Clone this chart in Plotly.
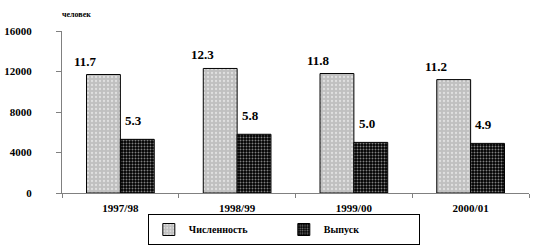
import plotly.graph_objects as go

categories = ["1997/98", "1998/99", "1999/00", "2000/01"]
students = [11700, 12300, 11800, 11200]   # Численность, человек
graduates = [5300, 5800, 5000, 4900]      # Выпуск, человек
y_ticks = [0, 4000, 8000, 12000, 16000]
series_names = ["Численность", "Выпуск"]
y_title = "человек"

FONT = "Times New Roman, Liberation Serif, serif"

fig = go.Figure()
fig.add_trace(go.Bar(
    x=categories, y=students, name=f"<b>{series_names[0]}</b>",
    marker=dict(color="#c0c0c0", line=dict(color="black", width=1),
                pattern=dict(shape=".", fgcolor="white", bgcolor="#c0c0c0",
                             size=4, solidity=0.25)),
))
fig.add_trace(go.Bar(
    x=categories, y=graduates, name=f"<b>{series_names[1]}</b>",
    marker=dict(color="black", line=dict(color="black", width=1),
                pattern=dict(shape=".", fgcolor="white", bgcolor="black",
                             size=3, solidity=0.35)),
))

anns = []
for c, v in zip(categories, students):
    anns.append(dict(x=c, y=v, xref="x", yref="y", text=f"<b>{v/1000:.1f}</b>",
                     showarrow=False, xshift=-35, yshift=4, yanchor="bottom",
                     font=dict(family=FONT, size=13, color="black")))
for c, v in zip(categories, graduates):
    anns.append(dict(x=c, y=v, xref="x", yref="y", text=f"<b>{v/1000:.1f}</b>",
                     showarrow=False, xshift=13, yshift=9, yanchor="bottom",
                     font=dict(family=FONT, size=13, color="black")))
anns.append(dict(x=-0.005, y=1.10, xref="paper", yref="paper", text=f"<b>{y_title}</b>",
                 showarrow=False, xanchor="left", yanchor="middle",
                 font=dict(family=FONT, size=8, color="black")))

fig.update_layout(
    width=540, height=245,
    margin=dict(l=62, r=11, t=31, b=52, pad=0, autoexpand=False),
    paper_bgcolor="white", plot_bgcolor="white",
    barmode="group", bargap=0.42, bargroupgap=0,
    font=dict(family=FONT, size=11, color="black"),
    annotations=anns,
    showlegend=True,
    legend=dict(orientation="h", x=0.475, xanchor="center",
                yref="container", y=0.0, yanchor="bottom",
                bordercolor="black", borderwidth=1, bgcolor="white",
                font=dict(family=FONT, size=10, color="black"),
                itemwidth=30, entrywidth=90, traceorder="normal"),
    xaxis=dict(type="category", showline=True, linecolor="#808080", linewidth=1,
               ticks="outside", ticklen=4, tickcolor="#808080", tickson="boundaries",
               ticklabelstandoff=5,
               tickvals=categories, ticktext=[f"<b>{c}</b>" for c in categories],
               tickfont=dict(family=FONT, size=11, color="black"),
               showgrid=False, zeroline=False, fixedrange=True),
    yaxis=dict(range=[0, 16000], tickvals=y_ticks, ticktext=[f"<b>{t}</b>" for t in y_ticks],
               showline=True, linecolor="#808080", linewidth=1,
               ticks="outside", ticklen=5, tickcolor="#808080",
               ticklabelstandoff=22,
               tickfont=dict(family=FONT, size=11, color="black"),
               showgrid=False, zeroline=False, fixedrange=True),
)

fig.write_html("out.html")
